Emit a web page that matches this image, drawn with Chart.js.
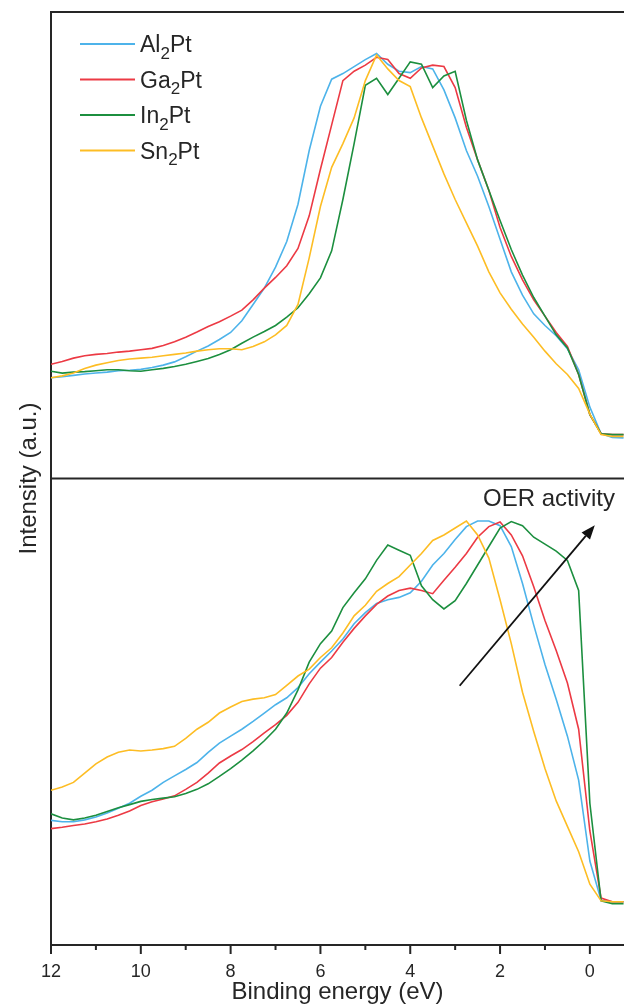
<!DOCTYPE html>
<html>
<head>
<meta charset="utf-8">
<title>Valence band spectra</title>
<script src="https://cdn.jsdelivr.net/npm/chart.js@4"></script>
<style>
  html, body { margin: 0; padding: 0; background: #fff; }
  #wrap { width: 624px; height: 1007px; position: relative; }
</style>
</head>
<body>
<div id="wrap"><canvas id="xps"></canvas></div>
<script>
const FONT = '"Liberation Sans", Arial, sans-serif';
const INK = '#262626';

// binding energy grid (eV), read every 0.25 eV
const energies = [12, 11.75, 11.5, 11.25, 11, 10.75, 10.5, 10.25, 10, 9.75, 9.5, 9.25, 9, 8.75, 8.5, 8.25,
  8, 7.75, 7.5, 7.25, 7, 6.75, 6.5, 6.25, 6, 5.75, 5.5, 5.25, 5, 4.75, 4.5, 4.25, 4, 3.75, 3.5, 3.25,
  3, 2.75, 2.5, 2.25, 2, 1.75, 1.5, 1.25, 1, 0.75, 0.5, 0.25, 0, -0.25, -0.5, -0.75];
const majorTicks = [12, 10, 8, 6, 4, 2, 0];
const minorTicks = [11, 9, 7, 5, 3, 1];

const samples = ['Al₂Pt', 'Ga₂Pt', 'In₂Pt', 'Sn₂Pt'];
const colors = ['#4db3ea', '#ec3a44', '#1c8f3f', '#fdbd24'];

// upper panel (a.u.)
const topAl = [21.8, 22.0, 22.3, 22.6, 22.8, 23.0, 23.3, 23.4, 23.6, 24.0, 24.5, 25.2, 26.3, 27.5, 28.6, 30.0,
  31.5, 34.0, 37.5, 41.0, 45.5, 51.0, 59.0, 70.5, 80.0, 85.8, 87.0, 88.5, 90.0, 91.3, 89.0, 87.5, 87.2, 88.5, 88.0, 83.5,
  77.5, 70.5, 65.0, 58.5, 51.5, 44.5, 39.5, 35.5, 33.0, 30.8, 28.0, 23.5, 15.5, 9.8, 9.0, 8.9];
const topGa = [24.7, 25.3, 26.0, 26.5, 26.8, 27.0, 27.3, 27.5, 27.8, 28.1, 28.7, 29.5, 30.5, 31.6, 32.8, 33.8,
  35.0, 36.3, 38.5, 41.0, 43.3, 45.8, 49.5, 56.5, 66.5, 76.0, 85.5, 87.5, 88.8, 90.5, 90.0, 87.0, 86.0, 88.2, 88.8, 88.5,
  84.0, 75.5, 68.5, 62.0, 54.0, 47.8, 42.8, 38.5, 35.0, 31.5, 28.5, 22.5, 13.9, 9.8, 9.6, 9.6];
const topIn = [23.2, 22.8, 23.0, 23.1, 23.3, 23.5, 23.5, 23.3, 23.2, 23.5, 23.8, 24.2, 24.7, 25.3, 25.9, 26.8,
  27.8, 29.2, 30.5, 31.7, 33.0, 34.8, 36.8, 39.8, 43.2, 49.0, 60.0, 72.0, 84.5, 86.0, 82.5, 86.0, 89.5, 89.0, 84.0, 86.5,
  87.5, 77.0, 68.5, 62.0, 55.5, 49.3, 43.8, 39.0, 35.0, 31.0, 28.2, 22.5, 13.9, 9.8, 9.6, 9.6];
const topSn = [21.8, 22.2, 22.8, 23.8, 24.5, 25.0, 25.5, 25.8, 26.0, 26.2, 26.5, 26.8, 27.1, 27.5, 27.8, 28.0,
  28.0, 27.8, 28.5, 29.5, 31.0, 33.0, 37.5, 47.5, 58.5, 66.9, 72.0, 77.5, 85.5, 91.0, 88.0, 85.5, 84.2, 77.5, 71.5, 65.5,
  60.0, 55.0, 50.0, 44.5, 40.0, 36.5, 33.3, 30.5, 27.5, 24.8, 22.5, 19.5, 14.0, 9.6, 9.2, 9.2];

// lower panel (a.u.)
const lowAl = [26.3, 26.0, 26.0, 26.4, 27.0, 27.9, 28.9, 30.0, 31.5, 32.8, 34.5, 35.9, 37.3, 38.8, 41.0, 43.0,
  44.5, 46.0, 47.7, 49.5, 51.3, 52.8, 55.0, 58.0, 60.5, 62.9, 65.5, 68.8, 71.2, 73.2, 74.0, 74.5, 75.5, 78.0, 81.5, 84.0,
  87.0, 89.8, 91.0, 91.0, 90.0, 85.5, 77.5, 68.5, 60.0, 52.5, 44.5, 35.0, 17.5, 9.0, 8.7, 8.7];
const lowGa = [24.5, 24.8, 25.2, 25.5, 26.0, 26.6, 27.4, 28.3, 29.5, 30.3, 30.9, 31.6, 33.0, 34.5, 36.5, 38.7,
  40.2, 41.6, 43.3, 45.2, 47.0, 49.0, 51.8, 55.8, 59.2, 61.5, 64.8, 67.8, 70.5, 73.0, 74.8, 76.0, 76.5, 76.0, 75.3, 78.2,
  81.0, 84.0, 87.5, 89.8, 90.8, 88.0, 83.5, 76.8, 69.5, 63.0, 56.0, 46.0, 24.0, 9.5, 8.7, 8.7];
const lowIn = [27.7, 26.8, 26.4, 26.8, 27.4, 28.2, 29.0, 29.7, 30.4, 30.8, 31.1, 31.4, 32.1, 33.0, 34.2, 35.8,
  37.5, 39.3, 41.3, 43.5, 46.0, 49.5, 54.5, 60.5, 64.5, 67.2, 72.3, 75.5, 78.5, 82.5, 85.8, 84.7, 83.6, 77.0, 74.0, 72.0,
  73.8, 77.5, 81.5, 85.5, 89.5, 90.9, 90.0, 87.5, 86.0, 84.5, 82.5, 76.0, 30.0, 8.9, 8.3, 8.3];
const lowSn = [32.8, 33.5, 34.5, 36.5, 38.5, 40.0, 41.0, 41.5, 41.3, 41.5, 41.8, 42.3, 44.0, 46.0, 47.5, 49.5,
  50.8, 52.0, 52.5, 52.8, 53.5, 55.5, 57.5, 59.0, 61.5, 63.6, 66.8, 70.5, 72.8, 75.8, 77.5, 79.0, 81.5, 84.0, 86.8, 88.0,
  89.5, 91.0, 88.0, 83.0, 74.0, 64.5, 54.0, 45.5, 37.5, 30.5, 25.0, 19.5, 12.5, 8.9, 8.7, 8.7];

const topSets = [topAl, topGa, topIn, topSn];
const lowSets = [lowAl, lowGa, lowIn, lowSn];

// arrow note in the lower panel, in data units (eV, a.u.)
const note = { text: 'OER activity', from: [2.9, 55.4], to: [-0.11, 90.1], at: [2.38, 94.2] };

function makeSet(vals, i, axis) {
  return {
    label: samples[i],
    data: energies.map((e, k) => ({ x: e, y: vals[k] })),
    yAxisID: axis,
    borderColor: colors[i],
    borderWidth: 1.6,
    pointRadius: 0,
    fill: false,
    tension: 0,
    order: samples.length - i
  };
}

// text with unicode subscript digits drawn as real subscripts
function richText(ctx, text, x, y, size) {
  const subs = '₀₁₂₃₄₅₆₇₈₉';
  const runs = [];
  for (const ch of text) {
    const d = subs.indexOf(ch);
    const sub = d >= 0;
    const c = sub ? String(d) : ch;
    if (runs.length && runs[runs.length - 1].sub === sub) runs[runs.length - 1].t += c;
    else runs.push({ t: c, sub: sub });
  }
  let cx = x;
  runs.forEach(r => {
    const s = r.sub ? Math.round(size * 0.72) : size;
    ctx.font = s + 'px ' + FONT;
    ctx.fillText(r.t, cx, r.sub ? y + size * 0.3 : y);
    cx += ctx.measureText(r.t).width;
  });
}

const decor = {
  id: 'decor',
  afterDraw(chart) {
    const ctx = chart.ctx;
    const area = chart.chartArea;
    const x = chart.scales.x, yt = chart.scales.yTop, yb = chart.scales.yBot;
    ctx.save();

    // frame: top edge and panel divider
    ctx.strokeStyle = INK;
    ctx.lineWidth = 2;
    ctx.beginPath();
    ctx.moveTo(area.left - 1, yt.top); ctx.lineTo(area.right, yt.top);
    ctx.moveTo(area.left, yt.bottom); ctx.lineTo(area.right, yt.bottom);
    ctx.stroke();

    // tick marks under the energy axis
    ctx.beginPath();
    majorTicks.forEach(v => {
      const px = x.getPixelForValue(v);
      ctx.moveTo(px, x.top); ctx.lineTo(px, x.top + 9);
    });
    minorTicks.forEach(v => {
      const px = x.getPixelForValue(v);
      ctx.moveTo(px, x.top); ctx.lineTo(px, x.top + 5);
    });
    ctx.stroke();

    // legend
    ctx.fillStyle = INK;
    ctx.textAlign = 'left';
    ctx.textBaseline = 'alphabetic';
    samples.forEach((name, i) => {
      const ly = area.top + 32 + i * 35.5;
      ctx.strokeStyle = colors[i];
      ctx.lineWidth = 1.8;
      ctx.beginPath();
      ctx.moveTo(area.left + 29, ly); ctx.lineTo(area.left + 84, ly);
      ctx.stroke();
      ctx.fillStyle = INK;
      richText(ctx, name, area.left + 89, ly + 8, 23);
    });

    // arrow + note
    const x0 = x.getPixelForValue(note.from[0]), y0 = yb.getPixelForValue(note.from[1]);
    const x1 = x.getPixelForValue(note.to[0]), y1 = yb.getPixelForValue(note.to[1]);
    const ang = Math.atan2(y1 - y0, x1 - x0);
    const head = 14, half = 5.5;
    ctx.strokeStyle = '#111';
    ctx.fillStyle = '#111';
    ctx.lineWidth = 1.8;
    ctx.beginPath();
    ctx.moveTo(x0, y0);
    ctx.lineTo(x1 - head * Math.cos(ang), y1 - head * Math.sin(ang));
    ctx.stroke();
    ctx.beginPath();
    ctx.moveTo(x1, y1);
    ctx.lineTo(x1 - head * Math.cos(ang) + half * Math.sin(ang), y1 - head * Math.sin(ang) - half * Math.cos(ang));
    ctx.lineTo(x1 - head * Math.cos(ang) - half * Math.sin(ang), y1 - head * Math.sin(ang) + half * Math.cos(ang));
    ctx.closePath();
    ctx.fill();
    ctx.font = '24px ' + FONT;
    ctx.fillStyle = INK;
    ctx.fillText(note.text, x.getPixelForValue(note.at[0]), yb.getPixelForValue(note.at[1]));

    // shared y title
    ctx.translate(area.left - 15, (area.top + area.bottom) / 2);
    ctx.rotate(-Math.PI / 2);
    ctx.textAlign = 'center';
    ctx.font = '24px ' + FONT;
    ctx.fillText('Intensity (a.u.)', 0, 0);
    ctx.restore();
  }
};

const panelAxis = (min, max, weight) => ({
  type: 'linear',
  position: 'left',
  stack: 'panels',
  stackWeight: 1,
  weight: weight,
  min: min,
  max: max,
  afterFit: s => { s.width = 51; },
  ticks: { display: false },
  grid: { display: false, drawTicks: false },
  border: { display: true, color: INK, width: 2 }
});

new Chart(document.getElementById('xps'), {
  type: 'line',
  data: {
    datasets: topSets.map((v, i) => makeSet(v, i, 'yTop'))
      .concat(lowSets.map((v, i) => makeSet(v, i, 'yBot')))
  },
  options: {
    responsive: true,
    maintainAspectRatio: false,
    animation: false,
    layout: { padding: { top: 12, right: 0, bottom: 0, left: 0 } },
    plugins: { legend: { display: false }, tooltip: { enabled: false } },
    scales: {
      x: {
        type: 'linear',
        reverse: true,
        min: -0.76,
        max: 12,
        afterBuildTicks: s => { s.ticks = majorTicks.map(v => ({ value: v })); },
        afterFit: s => { s.height = 62; },
        grid: { display: false, drawTicks: false },
        border: { display: true, color: INK, width: 2 },
        ticks: { padding: 16, color: INK, maxRotation: 0, autoSkip: false, font: { family: FONT, size: 18 } },
        title: { display: true, text: 'Binding energy (eV)', color: INK, font: { family: FONT, size: 24 }, padding: { top: 0, bottom: 0 } }
      },
      yTop: panelAxis(0.2, 100.2, 1),
      yBot: panelAxis(-0.65, 100.2, 0)
    }
  },
  plugins: [decor]
});
</script>
</body>
</html>
